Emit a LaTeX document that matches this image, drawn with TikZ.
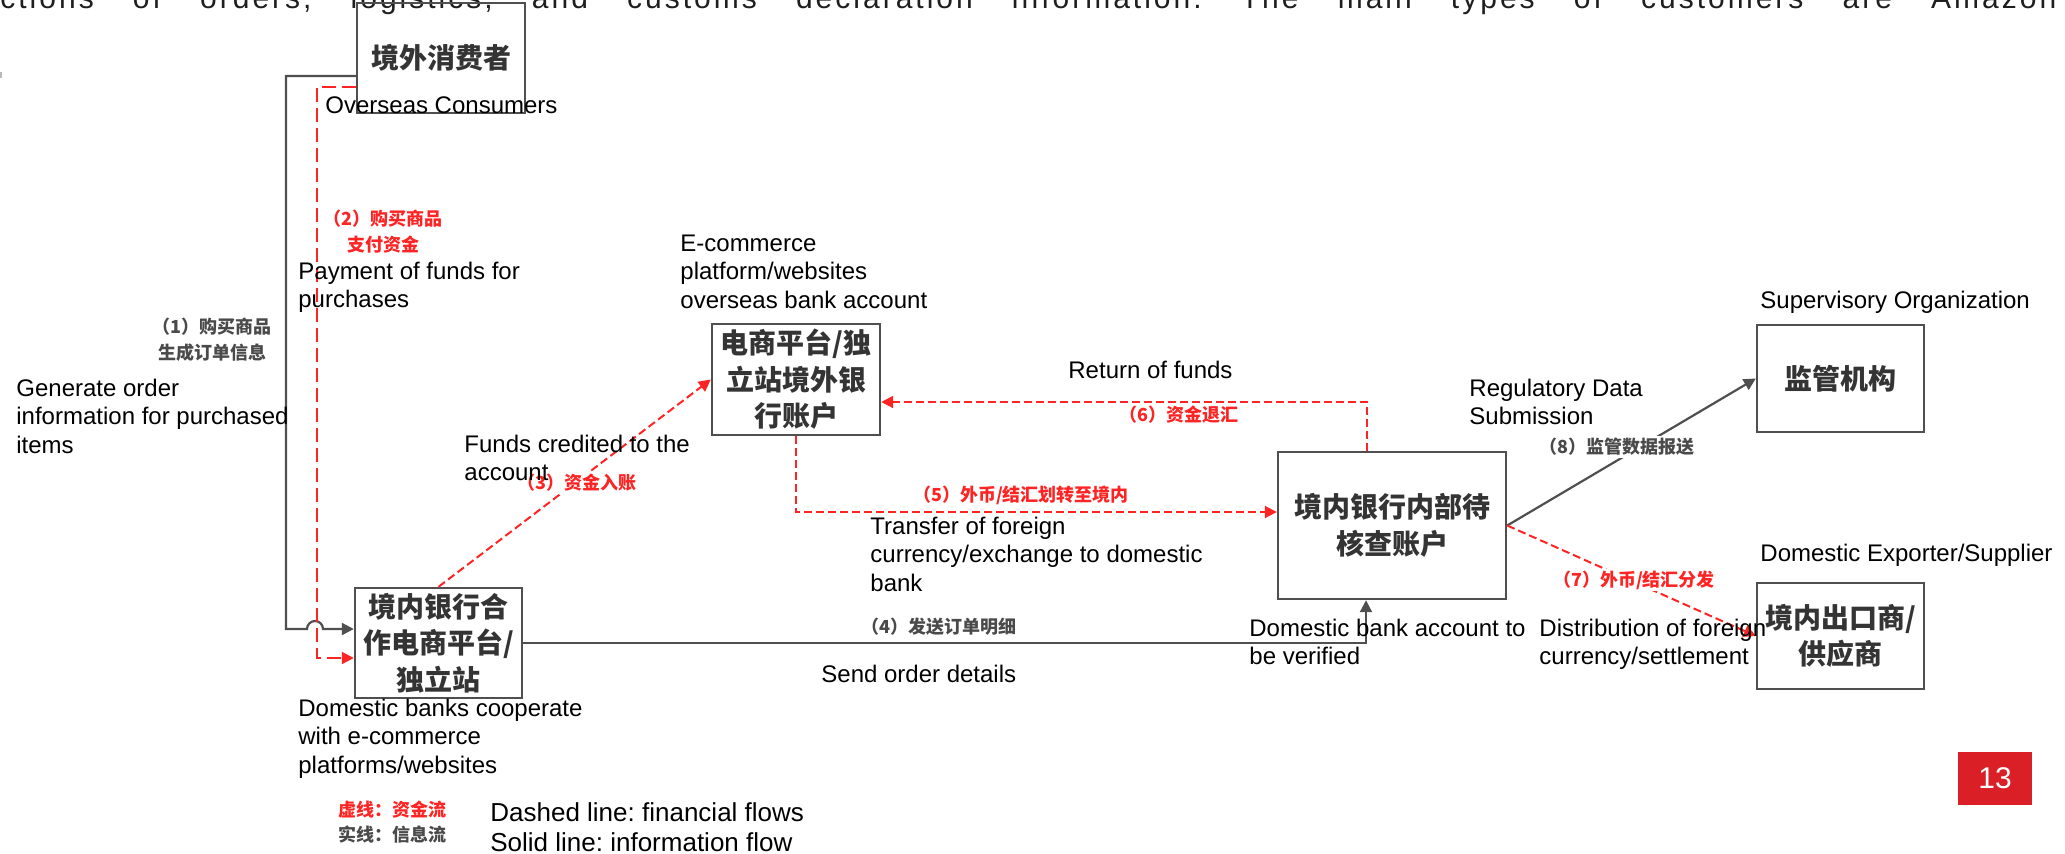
\documentclass[tikz,border=0pt]{standalone}
\usepackage{fontspec}
\setmainfont{Liberation Sans}
\newfontfamily\cjk{Noto Sans CJK SC}
\newfontfamily\spaced{Liberation Sans}[LetterSpace=10]
\usetikzlibrary{arrows.meta}
\definecolor{lnred}{HTML}{FF2424}
\definecolor{lngray}{HTML}{4F4F4F}
\definecolor{boxtxt}{HTML}{343434}
\definecolor{lblgray}{HTML}{4A4A4A}
\definecolor{pgred}{HTML}{DA1F26}
\newcommand\myst{\rule{0pt}{9pt}}
\newcommand\mystl{\rule{0pt}{9.75pt}}
\tikzset{
  box/.style={draw=lngray, line width=1.2pt, inner sep=0pt, align=center,
    font=\cjk\bfseries\fontsize{14pt}{18.25pt}\selectfont, text=boxtxt},
  en/.style={font=\fontsize{12pt}{14.25pt}\selectfont, align=left, inner sep=0pt, anchor=north west, text=black},
  lgd/.style={font=\fontsize{13pt}{15pt}\selectfont, align=left, inner sep=0pt, anchor=north west, text=black},
  cl/.style={font=\cjk\bfseries\fontsize{9pt}{13pt}\selectfont, align=center, inner sep=1pt},
  redl/.style={cl, text=lnred},
  grayl/.style={cl, text=lblgray},
  sol/.style={draw=lngray, line width=1.1pt},
  fin/.style={draw=lnred, line width=1pt, dash pattern=on 4pt off 2pt},
  finlong/.style={draw=lnred, line width=1pt, dash pattern=on 7pt off 3pt},
  arw/.style={-{Triangle[length=6pt,width=6pt]}}
}
\begin{document}
\frenchspacing
\begin{tikzpicture}[x=0.5pt,y=-0.5pt]
\useasboundingbox (0,0) rectangle (2065,853);
% clipped top text line
\begin{scope}
\clip (0,0) rectangle (2065,853);
\node[anchor=base west, inner sep=0pt, font=\spaced\fontsize{15pt}{17pt}\selectfont, text=black!88] (toptext) at (0,8)
  {\makebox[1028pt][s]{ctions of orders, logistics, and customs declaration information. The main types of customers are Amazon}};
\end{scope}
\fill[gray!55] (0,72) rectangle (2,78);

% boxes
\node[box, minimum width=84pt, minimum height=55pt] (A) at (441,58) {境外消费者};
\node[box, minimum width=83.5pt, minimum height=55pt] (B) at (438.5,643) {境内银行合\\作电商平台/\\独立站};
\node[box, minimum width=84pt, minimum height=55.5pt] (C) at (796,379.5) {电商平台/独\\立站境外银\\行账户};
\node[box, minimum width=114pt, minimum height=73.5pt] (D) at (1392,525.5) {境内银行内部待\\核查账户};
\node[box, minimum width=83.5pt, minimum height=53.5pt] (E) at (1840.5,378.5) {监管机构};
\node[box, minimum width=83.5pt, minimum height=53pt] (F) at (1840.5,636) {境内出口商/\\供应商};

% connectors
\coordinate (s1) at (286,76);
\coordinate (s2) at (286,629);
\coordinate (h1) at (307,629);
\draw[sol, arw] ([yshift=-9pt]A.west) -- (s1) -- (s2) -- (h1)
  arc[start angle=180, end angle=0, radius=4pt] -- ([yshift=7pt]B.west);
\coordinate (r1) at (317,87);
\coordinate (r2) at (317,658);
\draw[finlong, arw] ([yshift=-14.5pt]A.west) -- (r1) -- (r2) -- ([yshift=-7.5pt]B.west);
\draw[fin, arw] (B.north) -- (C.west);
\draw[fin, arw] (C.south) |- ([yshift=6.75pt]D.west);
\draw[fin, arw] ([xshift=-12.5pt]D.north) |- ([yshift=-11.25pt]C.east);
\draw[sol, arw] (B.east) -| ([xshift=-13pt]D.south);
\draw[sol, arw] (D.east) -- (E.west);
\draw[fin, arw] (D.east) -- (F.west);

% Chinese labels
\node[redl] (c2) at (383,232) {（2）购买商品\\支付资金};
\node[grayl] (c1) at (212,340) {（1）购买商品\\生成订单信息};
\node[redl, fill=white] (c3) at (577,483) {（3）资金入账};
\node[redl] (c5) at (1021,495) {（5）外币/结汇划转至境内};
\node[redl] (c6) at (1179,415) {（6）资金退汇};
\node[grayl] (c4) at (939,627) {（4）发送订单明细};
\node[grayl, fill=white] (c8) at (1617,447) {（8）监管数据报送};
\node[redl, fill=white] (c7) at (1634,580) {（7）外币/结汇分发};
\node[redl] (lg1) at (392,810) {虚线：资金流};
\node[grayl] (lg2) at (392,835) {实线：信息流};

% English labels
\node[en] (eA) at (325,95) {\myst Overseas Consumers};
\node[en] (ePay) at (298,261) {\myst Payment of funds for\\purchases};
\node[en] (eGen) at (16,378) {\myst Generate order\\information for purchased\\items};
\node[en] (eEC) at (680,233) {\myst E-commerce\\platform/websites\\overseas bank account};
\node[en] (eFunds) at (464,434) {\myst Funds credited to the\\account};
\node[en] (eTrans) at (870,516) {\myst Transfer of foreign\\currency/exchange to domestic\\bank};
\node[en] (eRet) at (1068,360) {\myst Return of funds};
\node[en] (eSend) at (821,664) {\myst Send order details};
\node[en] (eDB) at (1249,618) {\myst Domestic bank account to\\be verified};
\node[en] (eReg) at (1469,378) {\myst Regulatory Data\\Submission};
\node[en] (eSup) at (1760,290) {\myst Supervisory Organization};
\node[en] (eExp) at (1760,543) {\myst Domestic Exporter/Supplier};
\node[en] (eDist) at (1539,618) {\myst Distribution of foreign\\currency/settlement};
\node[en] (eDom) at (298,698) {\myst Domestic banks cooperate\\with e-commerce\\platforms/websites};
\node[lgd] (eLeg) at (490,802) {\mystl Dashed line: financial flows\\Solid line: information flow};

% page number
\node[fill=pgred, minimum width=37pt, minimum height=26.5pt, inner sep=0pt,
  text=white, font=\fontsize{15pt}{17pt}\selectfont] (pg) at (1995,778.5) {13};
\end{tikzpicture}
\end{document}
